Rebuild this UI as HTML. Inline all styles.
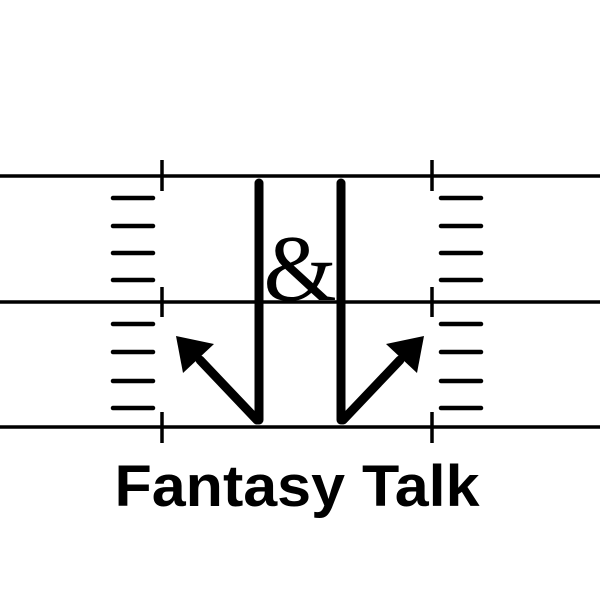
<!DOCTYPE html>
<html><head><style>html,body{margin:0;padding:0;background:#fff;}svg{display:block;}</style></head>
<body>
<svg width="600" height="600" viewBox="0 0 600 600" xmlns="http://www.w3.org/2000/svg">
<rect width="600" height="600" fill="#fff"/>
<g stroke="#000" stroke-width="3.5">
<line x1="0" y1="176" x2="600" y2="176"/>
<line x1="0" y1="302" x2="600" y2="302"/>
<line x1="0" y1="427" x2="600" y2="427"/>
</g>
<g stroke="#000" stroke-width="3.5">
<line x1="162" y1="160" x2="162" y2="191"/>
<line x1="162" y1="287" x2="162" y2="317"/>
<line x1="162" y1="412" x2="162" y2="443"/>
<line x1="432" y1="160" x2="432" y2="191"/>
<line x1="432" y1="287" x2="432" y2="317"/>
<line x1="432" y1="412" x2="432" y2="443"/>
</g>
<g stroke="#000" stroke-width="4.5" stroke-linecap="round">
<line x1="113" y1="198" x2="153" y2="198"/><line x1="113" y1="226" x2="153" y2="226"/>
<line x1="113" y1="253" x2="153" y2="253"/><line x1="113" y1="280" x2="153" y2="280"/>
<line x1="113" y1="324" x2="153" y2="324"/><line x1="113" y1="352" x2="153" y2="352"/>
<line x1="113" y1="381" x2="153" y2="381"/><line x1="113" y1="408" x2="153" y2="408"/>
<line x1="441" y1="198" x2="481" y2="198"/><line x1="441" y1="226" x2="481" y2="226"/>
<line x1="441" y1="253" x2="481" y2="253"/><line x1="441" y1="280" x2="481" y2="280"/>
<line x1="441" y1="324" x2="481" y2="324"/><line x1="441" y1="352" x2="481" y2="352"/>
<line x1="441" y1="381" x2="481" y2="381"/><line x1="441" y1="408" x2="481" y2="408"/>
</g>
<g stroke="#000" stroke-width="9" stroke-linecap="round" fill="none">
<line x1="259" y1="183" x2="259" y2="420"/>
<line x1="341" y1="183" x2="341" y2="420"/>
<line x1="257" y1="420" x2="200" y2="360"/>
<line x1="343" y1="420" x2="400" y2="360"/>
</g>
<polygon points="176,336 214,344 183,373" fill="#000"/>
<polygon points="424,336 386,344 417,373" fill="#000"/>
<text x="300" y="300" text-anchor="middle" font-family="Liberation Serif, serif" font-size="94" fill="#000">&amp;</text>
<text x="297" y="506" text-anchor="middle" font-family="Liberation Sans, sans-serif" font-weight="bold" font-size="58" textLength="365" lengthAdjust="spacingAndGlyphs" fill="#000">Fantasy Talk</text>
</svg>
</body></html>
